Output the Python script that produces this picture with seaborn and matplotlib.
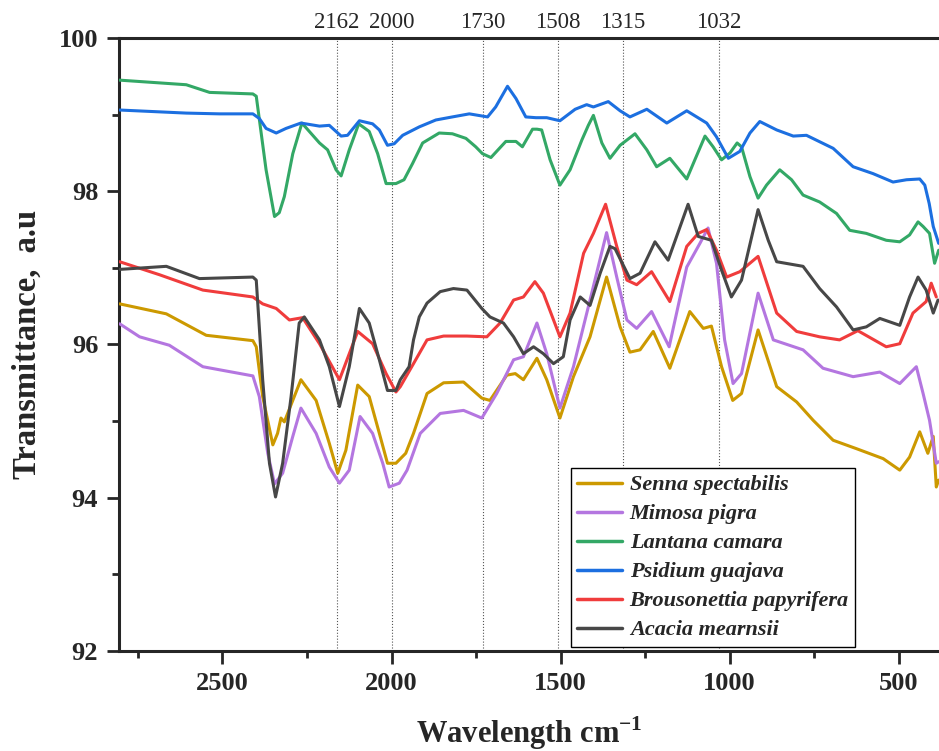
import numpy as np
import pandas as pd
import seaborn as sns
import matplotlib
matplotlib.use("Agg")
import matplotlib.pyplot as plt
from matplotlib.ticker import MultipleLocator

# Spectra (wavenumber, transmittance)
senna_wn = [2804, 2666, 2548, 2410, 2400, 2381, 2351, 2337, 2327, 2317, 2268, 2223, 2184, 2159, 2135,
            2100, 2066, 2036, 2012, 1987, 1958, 1935, 1895, 1846, 1787, 1733, 1709, 1659, 1634, 1610,
            1570, 1541, 1502, 1462, 1413, 1364, 1324, 1295, 1265, 1226, 1177, 1118, 1078, 1054, 1024,
            991, 965, 916, 861, 802, 753, 694, 625, 546, 497, 468, 438, 414, 398, 389, 382]
senna_t = [96.53, 96.40, 96.12, 96.05, 95.97, 95.32, 94.69, 94.84, 95.04, 94.99, 95.54, 95.27, 94.71, 94.32, 94.62,
           95.47, 95.32, 94.84, 94.45, 94.45, 94.58, 94.84, 95.36, 95.50, 95.51, 95.30, 95.27, 95.60, 95.62, 95.54,
           95.82, 95.54, 95.04, 95.58, 96.10, 96.88, 96.23, 95.90, 95.93, 96.17, 95.69, 96.43, 96.21, 96.24, 95.71,
           95.27, 95.36, 96.19, 95.45, 95.25, 95.01, 94.75, 94.64, 94.51, 94.36, 94.53, 94.86, 94.58, 94.80, 94.14, 94.23]

mimosa_wn = [2804, 2745, 2657, 2558, 2509, 2410, 2391, 2366, 2346, 2322, 2292, 2268, 2223, 2184, 2154,
             2125, 2093, 2056, 2026, 2007, 1977, 1954, 1915, 1856, 1787, 1733, 1689, 1639, 1610, 1570,
             1541, 1502, 1462, 1413, 1364, 1334, 1304, 1275, 1231, 1179, 1127, 1088, 1064, 1039, 1015,
             990, 965, 916, 871, 783, 724, 635, 556, 497, 448, 428, 409, 389, 382]
mimosa_t = [96.27, 96.10, 95.99, 95.71, 95.67, 95.59, 95.32, 94.58, 94.18, 94.32, 94.80, 95.17, 94.84, 94.40, 94.19,
            94.36, 95.06, 94.84, 94.45, 94.14, 94.19, 94.36, 94.84, 95.10, 95.14, 95.04, 95.36, 95.80, 95.84, 96.28,
            95.88, 95.17, 95.71, 96.58, 97.46, 96.88, 96.32, 96.21, 96.43, 95.97, 97.01, 97.32, 97.52, 97.06, 96.06,
            95.49, 95.62, 96.67, 96.06, 95.93, 95.69, 95.58, 95.64, 95.49, 95.71, 95.36, 95.01, 94.45, 94.47]

lantana_wn = [2804, 2607, 2538, 2410, 2400, 2371, 2346, 2332, 2317, 2292, 2265, 2213, 2189, 2164, 2149,
              2125, 2097, 2066, 2041, 2016, 1987, 1963, 1938, 1908, 1859, 1820, 1780, 1751, 1731, 1706,
              1662, 1632, 1613, 1583, 1570, 1556, 1531, 1502, 1472, 1437, 1418, 1403, 1378, 1354, 1324,
              1280, 1245, 1216, 1177, 1127, 1103, 1073, 1049, 1024, 999, 978, 965, 940, 916, 891,
              852, 817, 783, 734, 684, 645, 596, 537, 497, 468, 443, 428, 409, 394, 382]
lantana_t = [99.45, 99.39, 99.29, 99.27, 99.24, 98.28, 97.67, 97.72, 97.93, 98.49, 98.89, 98.63, 98.54, 98.28, 98.20,
             98.54, 98.88, 98.78, 98.49, 98.10, 98.10, 98.15, 98.36, 98.63, 98.76, 98.75, 98.69, 98.58, 98.49, 98.44,
             98.65, 98.65, 98.58, 98.81, 98.81, 98.80, 98.41, 98.08, 98.28, 98.67, 98.86, 98.99, 98.63, 98.43, 98.60,
             98.75, 98.54, 98.32, 98.43, 98.16, 98.41, 98.72, 98.58, 98.41, 98.50, 98.63, 98.58, 98.19, 97.91, 98.08,
             98.28, 98.15, 97.95, 97.86, 97.71, 97.49, 97.45, 97.36, 97.34, 97.43, 97.60, 97.54, 97.45, 97.06, 97.23]

psidium_wn = [2804, 2607, 2509, 2410, 2391, 2371, 2341, 2312, 2268, 2213, 2184, 2149, 2130, 2095, 2056,
              2036, 2012, 1992, 1967, 1918, 1869, 1820, 1770, 1716, 1692, 1657, 1632, 1603, 1573, 1541,
              1502, 1457, 1423, 1403, 1359, 1324, 1295, 1245, 1186, 1127, 1068, 1039, 1004, 970, 940,
              911, 861, 812, 773, 694, 635, 576, 517, 477, 438, 423, 410, 398, 382]
psidium_t = [99.06, 99.02, 99.01, 99.01, 98.95, 98.82, 98.76, 98.82, 98.89, 98.85, 98.86, 98.72, 98.73, 98.92, 98.88,
             98.80, 98.60, 98.62, 98.73, 98.84, 98.93, 98.97, 99.01, 98.97, 99.10, 99.37, 99.21, 98.97, 98.96, 98.96,
             98.92, 99.07, 99.13, 99.10, 99.17, 99.05, 98.97, 99.07, 98.89, 99.05, 98.89, 98.71, 98.43, 98.52, 98.76,
             98.91, 98.80, 98.72, 98.73, 98.56, 98.32, 98.23, 98.12, 98.15, 98.16, 98.08, 97.84, 97.54, 97.32]

brous_wn = [2804, 2686, 2558, 2410, 2381, 2341, 2302, 2263, 2213, 2154, 2100, 2056, 2016, 1987, 1974,
            1935, 1895, 1846, 1777, 1718, 1679, 1639, 1610, 1576, 1551, 1502, 1472, 1432, 1403, 1367,
            1334, 1304, 1275, 1231, 1177, 1127, 1093, 1068, 1039, 1009, 970, 916, 861, 802, 734,
            675, 621, 537, 497, 458, 419, 404, 389]
brous_t = [97.08, 96.91, 96.71, 96.62, 96.53, 96.47, 96.32, 96.35, 96.01, 95.54, 96.17, 96.01, 95.62, 95.38, 95.45,
           95.75, 96.06, 96.11, 96.11, 96.10, 96.28, 96.58, 96.62, 96.82, 96.67, 96.10, 96.41, 97.19, 97.45, 97.83,
           97.28, 96.84, 96.78, 96.95, 96.56, 97.28, 97.45, 97.50, 97.23, 96.88, 96.95, 97.15, 96.41, 96.17, 96.10,
           96.06, 96.18, 95.97, 96.01, 96.41, 96.56, 96.80, 96.62]

acacia_wn = [2804, 2666, 2568, 2410, 2400, 2381, 2361, 2343, 2322, 2297, 2273, 2258, 2213, 2184, 2154,
             2125, 2095, 2066, 2036, 2012, 1987, 1974, 1948, 1935, 1918, 1895, 1856, 1817, 1777, 1733,
             1709, 1669, 1639, 1610, 1580, 1551, 1521, 1492, 1472, 1442, 1413, 1383, 1354, 1339, 1295,
             1265, 1221, 1182, 1123, 1093, 1054, 1024, 995, 965, 916, 886, 861, 783, 734, 684,
             635, 596, 556, 497, 468, 443, 419, 398, 384]
acacia_t = [96.98, 97.02, 96.86, 96.88, 96.84, 95.54, 94.45, 94.01, 94.45, 95.32, 96.28, 96.36, 96.06, 95.71, 95.19,
            95.71, 96.47, 96.28, 95.80, 95.40, 95.40, 95.54, 95.71, 96.06, 96.36, 96.54, 96.69, 96.73, 96.71, 96.47,
            96.36, 96.28, 96.10, 95.88, 95.97, 95.88, 95.75, 95.84, 96.32, 96.62, 96.51, 96.93, 97.28, 97.25, 96.86,
            96.93, 97.34, 97.10, 97.83, 97.41, 97.36, 96.97, 96.62, 96.84, 97.76, 97.36, 97.08, 97.02, 96.73, 96.49,
            96.19, 96.23, 96.34, 96.25, 96.62, 96.88, 96.71, 96.41, 96.58]

species = ["Senna spectabilis", "Mimosa pigra", "Lantana camara", "Psidium guajava",
           "Brousonettia papyrifera", "Acacia mearnsii"]
colors = ["#CC9900", "#B476E0", "#33A866", "#1C6FE0", "#F03C3C", "#474747"]
peaks = [2162, 2000, 1730, 1508, 1315, 1032]

series = [(senna_wn, senna_t), (mimosa_wn, mimosa_t), (lantana_wn, lantana_t),
          (psidium_wn, psidium_t), (brous_wn, brous_t), (acacia_wn, acacia_t)]
frames = []
for name, (wn, t) in zip(species, series):
    frames.append(pd.DataFrame({"wn": wn, "T": t, "sample": name}))
df = pd.concat(frames, ignore_index=True)

sns.set_style("ticks")
plt.rcParams["font.family"] = ["Liberation Serif", "DejaVu Serif"]
plt.rcParams["mathtext.fontset"] = "custom"
plt.rcParams["mathtext.rm"] = "Liberation Serif"
plt.rcParams["mathtext.bf"] = "Liberation Serif:bold"

fig = plt.figure(figsize=(9.39, 7.51), dpi=100)
ax = fig.add_axes([0.1267, 0.1332, 0.8733, 0.8162])

# peak markers
for p in peaks:
    ax.axvline(p, color="#555555", lw=0.8, ls=":", zorder=1)
    ax.text(p, 100.06, str(p), ha="center", va="bottom", fontsize=16.5)

sns.lineplot(data=df, x="wn", y="T", hue="sample", hue_order=species,
             palette=colors, estimator=None, sort=False, lw=2.2, ax=ax, zorder=3)

ax.set_xlim(2806, 381)
ax.set_ylim(92, 100)
ax.xaxis.set_major_locator(MultipleLocator(500))
ax.xaxis.set_minor_locator(MultipleLocator(250))
ax.yaxis.set_major_locator(MultipleLocator(2))
ax.yaxis.set_minor_locator(MultipleLocator(1))
ax.tick_params(which="major", length=9, width=2, labelsize=19, direction="out", pad=6)
ax.tick_params(which="minor", length=5, width=2, direction="out")
for lab in ax.get_xticklabels() + ax.get_yticklabels():
    lab.set_fontweight("bold")
for s in ["left", "bottom", "top"]:
    ax.spines[s].set_linewidth(2.2)
ax.spines["right"].set_visible(False)

ax.set_xlabel("Wavelength cm$^{\\mathregular{-1}}$", fontsize=22, fontweight="bold", va="baseline")
ax.xaxis.set_label_coords(0.5, -(743 - 651) / 613)
ax.set_ylabel("Transmittance,  a.u", fontsize=23.5, fontweight="bold")
ax.yaxis.set_label_coords(-(119 - 43) / 820, 0.5)

leg = ax.legend(loc="lower left", bbox_to_anchor=(0.551, 0.0065), borderaxespad=0,
                fancybox=False, edgecolor="black", framealpha=1, handlelength=2.0,
                labelspacing=0.38, handletextpad=0.35, borderpad=0.3,
                prop={"style": "italic", "weight": "bold", "size": 16})
leg.get_frame().set_linewidth(1.0)
for line in leg.get_lines():
    line.set_linewidth(2.5)

fig.savefig("out.png", dpi=100)
plt.close(fig)
